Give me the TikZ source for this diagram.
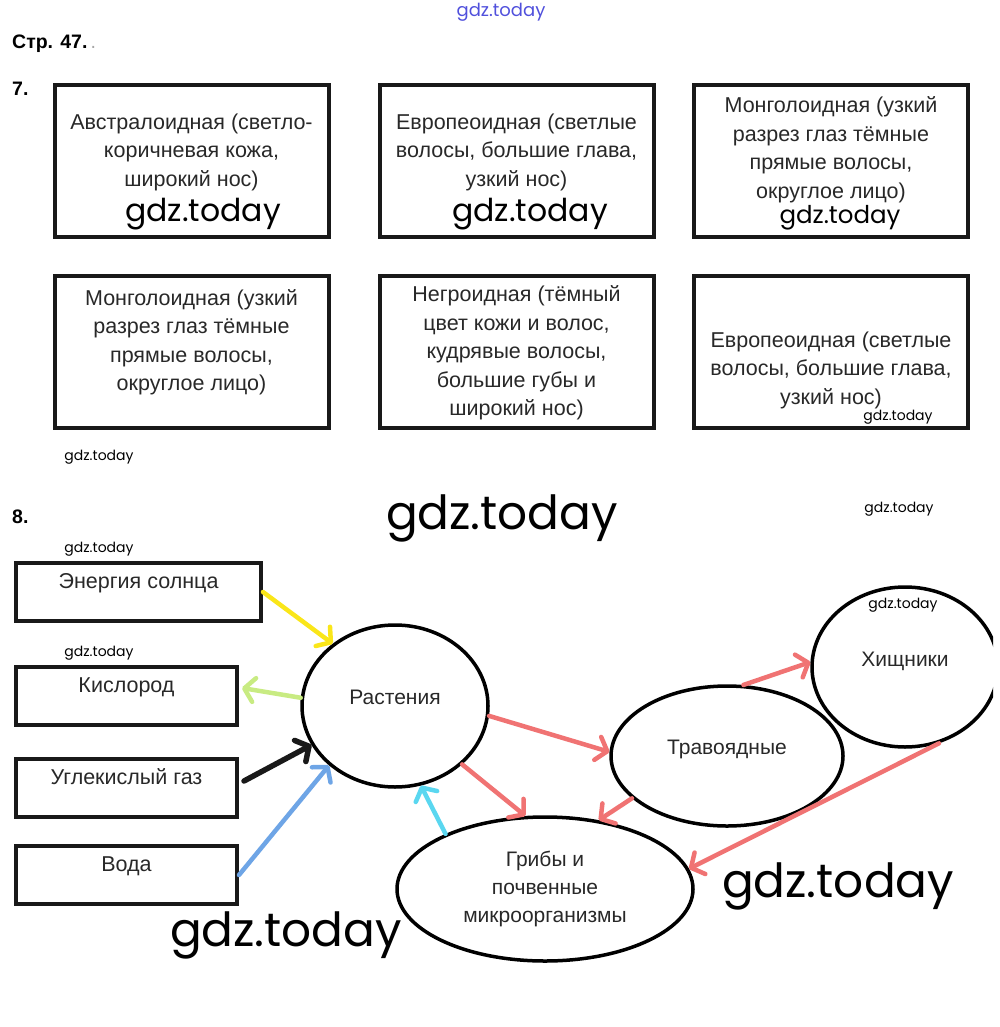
\documentclass[tikz,border=0pt]{standalone}
\usepackage{fontspec}
\setmainfont{Liberation Sans}
\newfontfamily\gdzfont{Poppins}
\usetikzlibrary{arrows.meta,shapes.geometric,calc}

\definecolor{grigio}{RGB}{40,40,40}
\definecolor{giallo}{RGB}{250,230,25}
\definecolor{verdino}{RGB}{200,235,130}
\definecolor{azzurro}{RGB}{110,165,230}
\definecolor{ciano}{RGB}{90,215,240}
\definecolor{rosa}{RGB}{240,115,115}
\definecolor{blu}{RGB}{80,80,220}

\begin{document}
\begin{tikzpicture}[x=1pt, y=-1pt,
		riquadro/.style={draw=black!90, line width=4pt, inner sep=0pt,
			minimum width=274pt, minimum height=152pt},
		cella/.style={draw=black!90, line width=4pt, inner sep=0pt,
			minimum height=58pt, text depth=22pt, text=grigio,
			font=\fontsize{21.5}{29}\selectfont},
		ovale/.style={ellipse, draw=black, line width=3.5pt, inner sep=0pt,
			text=grigio, font=\fontsize{21}{28}\selectfont, align=center},
		testo/.style={text=grigio, align=center, inner sep=0pt,
			font=\fontsize{21.5}{28.5}\selectfont},
		numero/.style={anchor=west, inner sep=0pt,
			font=\bfseries\fontsize{19.5}{22}\selectfont},
		filigrana/.style={inner sep=0pt, font=\gdzfont\fontsize{#1}{#1}\selectfont},
		freccia/.style={line width=4.5pt, line cap=round,
			-{Straight Barb[length=10pt, width=24pt, round]}}]
	
	\useasboundingbox (0,0) rectangle (1000,1027);
	\clip (0,0) rectangle (993,1027);
	
	%% --- intestazione ---
	\node[filigrana=18, text=blu] (gdztop) at (501,12) {gdz.today};
	\node[numero] (pagina) at (12,44) {Стр. 47.\,{\color{gray!70}\mdseries .}};
	\node[numero] (es7) at (12,89) {7.};
	
	%% --- esercizio 7: sei riquadri ---
	\node[riquadro] (r1) at (191.5,161) {};
	\node[riquadro] (r2) at (516.5,161) {};
	\node[riquadro] (r3) at (831,161) {};
	\node[riquadro] (r4) at (191.5,352) {};
	\node[riquadro] (r5) at (516.5,352) {};
	\node[riquadro] (r6) at (831,352) {};
	
	\node[testo] (t1) at (191.5,152) {Австралоидная (светло-\\коричневая кожа,\\широкий нос)};
	\node[testo] (t2) at (516.5,152) {Европеоидная (светлые\\волосы, большие глава,\\узкий нос)};
	\node[testo] (t3) at (831,150) {Монголоидная (узкий\\разрез глаз тёмные\\прямые волосы,\\округлое лицо)};
	\node[testo] (t4) at (191.5,342) {Монголоидная (узкий\\разрез глаз тёмные\\прямые волосы,\\округлое лицо)};
	\node[testo] (t5) at (516.5,353) {Негроидная (тёмный\\цвет кожи и волос,\\кудрявые волосы,\\большие губы и\\широкий нос)};
	\node[testo] (t6) at (831,370) {Европеоидная (светлые\\волосы, большие глава,\\узкий нос)};
	
	\node[filigrana=31.5] (g1) at (203,214) {gdz.today};
	\node[filigrana=31.5] (g2) at (530,214) {gdz.today};
	\node[filigrana=24.5] (g3) at (840,218) {gdz.today};
	\node[filigrana=14] (g6) at (898,417) {gdz.today};
	\node[filigrana=14] (g4) at (99,457) {gdz.today};
	
	%% --- esercizio 8: schema ---
	\node[numero] (es8) at (12,517) {8.};
	\node[filigrana=47] (gbig) at (502,518) {gdz.today};
	\node[filigrana=14] (gdx) at (899,509) {gdz.today};
	\node[filigrana=14] (gsole) at (99,549) {gdz.today};
	\node[filigrana=14] (gossi) at (99,653) {gdz.today};
	
	\node[cella, minimum width=245pt] (sole) at (138.5,592) {Энергия солнца};
	\node[cella, minimum width=221pt] (ossigeno) at (126.5,696) {Кислород};
	\node[cella, minimum width=221pt] (co2) at (126.5,788) {Углекислый газ};
	\node[cella, minimum width=221pt] (acqua) at (126.5,875) {Вода};
	
	\node[ovale, minimum width=186pt, minimum height=162pt, text depth=18pt]
		(piante) at (395,706) {Растения};
	\node[ovale, minimum width=232pt, minimum height=140pt, text depth=18pt]
		(erbivori) at (727,756) {Травоядные};
	\node[ovale, minimum width=186pt, minimum height=160pt, text depth=16pt]
		(predatori) at (905,667) {Хищники};
	\node[ovale, minimum width=296pt, minimum height=144pt]
		(funghi) at (545,889) {Грибы и\\почвенные\\микроорганизмы};
	
	\node[filigrana=14] (gpred) at (903,605) {gdz.today};
	\node[filigrana=47] (gdes) at (838,886) {gdz.today};
	\node[filigrana=47] (gsin) at (286,935) {gdz.today};
	
	%% --- frecce ---
	\draw[freccia, giallo] (sole.east) -- (piante.135);
	\draw[freccia, verdino] (piante.175) -- ($(ossigeno.east)+(3,-8)$);
	\draw[freccia, black!90, line width=5.5pt] ($(co2.east)+(5,-7)$) -- (piante.205);
	\draw[freccia, azzurro] (acqua.east) -- (piante.222);
	\draw[freccia, ciano] (funghi.151) -- (piante.288);
	
	\draw[freccia, rosa] (piante.-6) -- (erbivori.178);
	\draw[freccia, rosa] (piante.-41) -- (funghi.105);
	\draw[freccia, rosa] (erbivori.204) -- (funghi.52);
	\draw[freccia, rosa] (erbivori.77) -- (predatori.177);
	\draw[freccia, rosa] (predatori.-66) -- (funghi.8);
	
\end{tikzpicture}
\end{document}
